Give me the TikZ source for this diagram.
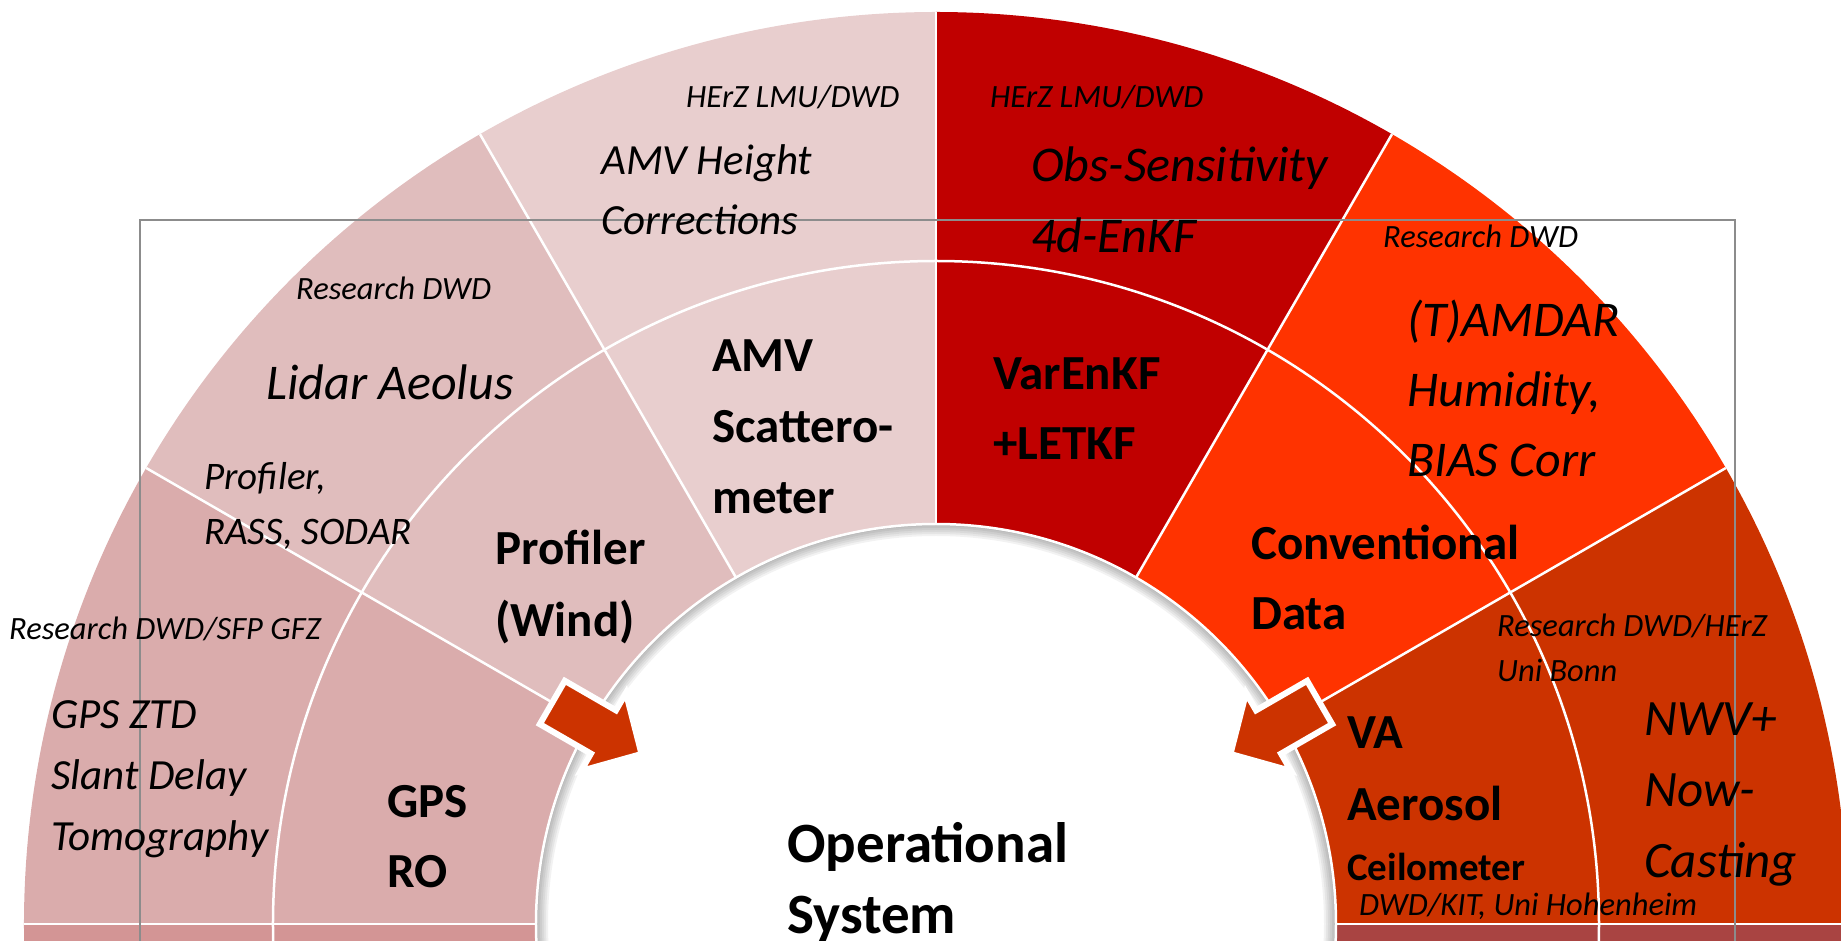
\documentclass[tikz,border=0pt]{standalone}
\usepackage{fontspec}
\setmainfont{Carlito}
\usepackage{tikz}
\usetikzlibrary{calc}
\definecolor{amvpink}{HTML}{E8CECE}
\definecolor{lidarpink}{HTML}{E0BDBD}
\definecolor{gpspink}{HTML}{DAACAC}
\definecolor{lowpink}{HTML}{D39595}
\definecolor{enkfred}{HTML}{C00000}
\definecolor{convorange}{HTML}{FF3300}
\definecolor{vaorange}{HTML}{CC3300}
\definecolor{lowred}{HTML}{A94442}
\definecolor{framegray}{HTML}{8C8C8C}

\begin{document}
\begin{tikzpicture}[x=1pt,y=1pt,
	sep line/.style={white,line width=2.5},
	who label/.style={font=\itshape\fontsize{32.5}{45}\selectfont,align=left,anchor=base west,inner sep=0pt},
	topic label/.style 2 args={font=\itshape\fontsize{#1}{#2}\selectfont,align=left,anchor=base west,inner sep=0pt},
	box label/.style 2 args={font=\bfseries\fontsize{#1}{#2}\selectfont,align=left,anchor=base west,inner sep=0pt}]

    \useasboundingbox (-936,-16) rectangle (905,924);
    \clip (-936,-16) rectangle (905,924);

    \foreach \a/\c in {0/vaorange,30/convorange,60/enkfred,90/amvpink,120/lidarpink,150/gpspink,180/lowpink,330/lowred}
        \fill[\c] (0,0) -- (\a:912) arc[start angle=\a,delta angle=30,radius=912] -- cycle;
    \foreach \a in {0,30,...,180}
        \draw[sep line] (\a:400) -- (\a:912);
    \draw[sep line] (0,0) circle (663);

    \fill[white] (0,0) circle (400);
    \begin{scope}
        \clip (0,0) circle (400);
        \foreach \w in {4,8,...,24}
            \draw[black,opacity=0.05,line width=\w] (0,0) circle (400);
    \end{scope}
    \draw[white,line width=2.5] (0,0) circle (400);

    \foreach \a in {30,150}
        \filldraw[fill=vaorange,draw=white,line width=6,line join=miter,rotate=\a]
            (443,25) -- (384,25) -- (384,45) -- (340,0) -- (384,-45) -- (384,-25) -- (443,-25) -- cycle;

    \draw[framegray,line width=2.5] (-796,-30) |- (799,704) -- (799,-30);

    \node[who label] (herzl) at (-250,816) {HErZ LMU/DWD};
    \node[topic label={43}{60}] (amvh) at (-335,689) {AMV Height\\Corrections};
    \node[who label] (herzr) at (54,816) {HErZ LMU/DWD};
    \node[topic label={50}{71}] (obs) at (95,671) {Obs-Sensitivity\\4d-EnKF};
    \node[who label] (resl) at (-640,624) {Research DWD};
    \node[topic label={50}{60}] (lidar) at (-670,524) {Lidar Aeolus};
    \node[topic label={39}{55}] (rass) at (-732,379) {Profiler,\\RASS, SODAR};
    \node[who label] (resgfz) at (-927,284) {Research DWD/SFP GFZ};
    \node[topic label={43}{61}] (ztd) at (-885,74) {GPS ZTD\\Slant Delay\\Tomography};
    \node[who label] (resr) at (447,676) {Research DWD};
    \node[topic label={50}{70}] (amdar) at (471,447) {(T)AMDAR\\Humidity,\\BIAS Corr};
    \node[who label] (resbonn) at (561,242) {Research DWD/HErZ\\Uni Bonn};
    \node[topic label={51}{71}] (nwv) at (708,47) {NWV+\\Now-\\Casting};
    \node[who label] (kit) at (423,9) {DWD/KIT, Uni Hohenheim};

    \node[box label={49}{71}] (amv) at (-224,410) {AMV\\Scattero-\\meter};
    \node[box label={49}{70}] (enkf) at (57,464) {VarEnKF\\+LETKF};
    \node[box label={49}{72}] (prof) at (-441,287) {Profiler\\(Wind)};
    \node[box label={49}{70}] (conv) at (315,294) {Conventional\\Data};
    \node[box label={49}{70}] (gps) at (-549,37) {GPS\\RO};
    \node[box label={49}{72}] (va) at (411,104) {VA\\Aerosol};
    \node[box label={39}{47}] (ceil) at (411,44) {Ceilometer};
    \node[box label={57}{71}] (oper) at (-149,-9) {Operational\\System};

\end{tikzpicture}
\end{document}
